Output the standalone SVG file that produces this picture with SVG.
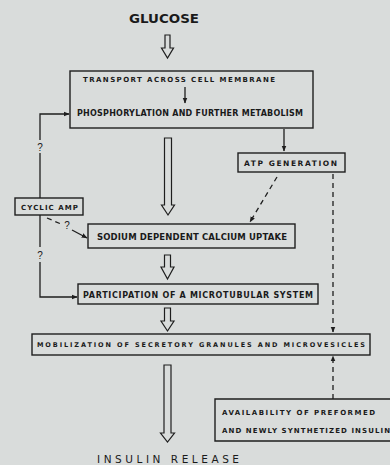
<svg xmlns="http://www.w3.org/2000/svg" width="390" height="465" viewBox="0 0 390 465">
<defs>
<style>
.bg{fill:#d9dcdb}
.box{fill:none;stroke:#1e1e1e;stroke-width:1.4}
.ln{fill:none;stroke:#1e1e1e;stroke-width:1.3}
.dash{fill:none;stroke:#1e1e1e;stroke-width:1.3;stroke-dasharray:5 4}
.hol{fill:none;stroke:#1e1e1e;stroke-width:1.2;stroke-linejoin:miter}
.t{font-family:"DejaVu Sans","Liberation Sans",sans-serif;font-weight:bold;fill:#1a1a1a}
.q{font-family:"Liberation Sans",Arial,sans-serif;font-weight:normal;fill:#1a1a1a;font-size:10px}
.big{font-family:"DejaVu Sans","Liberation Sans",sans-serif;fill:#1a1a1a}
</style>
<marker id="ah" viewBox="0 0 10 10" refX="9" refY="5" markerWidth="6" markerHeight="6" orient="auto" markerUnits="userSpaceOnUse">
<path d="M0,1 L10,5 L0,9 Z" fill="#1e1e1e"/>
</marker>
</defs>
<rect class="bg" x="0" y="0" width="390" height="465"/>

<g id="glucose">
<text class="big" x="164" y="23" font-size="12.5" font-weight="bold" text-anchor="middle" textLength="70" lengthAdjust="spacingAndGlyphs">GLUCOSE</text>
</g>

<g id="box-metabolism">
<rect class="box" x="70" y="71" width="243" height="57"/>
<text class="t" x="83" y="82" font-size="7" textLength="192" lengthAdjust="spacing">TRANSPORT ACROSS CELL MEMBRANE</text>
<line class="ln" x1="185" y1="87" x2="185" y2="103" marker-end="url(#ah)"/>
<text class="t" x="77" y="116" font-size="8" textLength="226" lengthAdjust="spacing">PHOSPHORYLATION AND FURTHER METABOLISM</text>
</g>

<g id="box-atp">
<rect class="box" x="238" y="153" width="107" height="19"/>
<text class="t" x="244" y="165.5" font-size="7.5" textLength="93" lengthAdjust="spacing">ATP  GENERATION</text>
</g>

<g id="box-camp">
<rect class="box" x="15" y="198" width="68" height="17"/>
<text class="t" x="21" y="210" font-size="7" textLength="57" lengthAdjust="spacing">CYCLIC AMP</text>
</g>

<g id="box-sodium">
<rect class="box" x="88" y="224" width="207" height="24"/>
<text class="t" x="97" y="239.5" font-size="8.5" textLength="190" lengthAdjust="spacing">SODIUM DEPENDENT CALCIUM UPTAKE</text>
</g>

<g id="box-microtubular">
<rect class="box" x="78" y="284" width="240" height="20"/>
<text class="t" x="83" y="297.5" font-size="8" textLength="230" lengthAdjust="spacing">PARTICIPATION OF A MICROTUBULAR SYSTEM</text>
</g>

<g id="box-mobilization">
<rect class="box" x="32" y="334" width="338" height="21"/>
<text class="t" x="37" y="347" font-size="6.5" textLength="328" lengthAdjust="spacing">MOBILIZATION OF SECRETORY GRANULES AND MICROVESICLES</text>
</g>

<g id="box-availability">
<path class="box" d="M392,399 H215 V441 H392"/>
<text class="t" x="222" y="414.5" font-size="7" textLength="153" lengthAdjust="spacing">AVAILABILITY OF PREFORMED</text>
<text class="t" x="222" y="432.5" font-size="7" textLength="168" lengthAdjust="spacing">AND NEWLY SYNTHETIZED INSULIN</text>
</g>

<g id="insulin-release">
<text class="big" x="168" y="462.5" font-size="10.5" text-anchor="middle" textLength="142" lengthAdjust="spacing">INSULIN RELEASE</text>
</g>

<g id="connectors">
<path class="hol" d="M165,35 H170 V48 H173.5 L167.5,58 L161.5,48 H165 Z"/>
<path class="hol" d="M164.5,138 H171.5 V205 H174.5 L168,215 L161.5,205 H164.5 Z"/>
<path class="hol" d="M164.5,255 H170.5 V267 H174 L167.5,279 L161,267 H164.5 Z"/>
<path class="hol" d="M164.5,308 H170.5 V321 H174 L167.5,331 L161,321 H164.5 Z"/>
<path class="hol" d="M164,365 H171 V433 H174.5 L167.5,442 L160.5,433 H164 Z"/>

<line class="ln" x1="284" y1="129" x2="284" y2="151" marker-end="url(#ah)"/>
<line class="dash" x1="277" y1="177" x2="250" y2="222" marker-end="url(#ah)"/>
<line class="dash" x1="333" y1="174" x2="333" y2="332" marker-end="url(#ah)"/>
<line class="dash" x1="333" y1="399" x2="333" y2="356" marker-end="url(#ah)"/>

<polyline class="ln" points="40,140 40,114 69,114" marker-end="url(#ah)"/>
<line class="ln" x1="40" y1="153" x2="40" y2="198"/>
<text class="q" x="40" y="151" text-anchor="middle">?</text>
<line class="ln" x1="40" y1="215" x2="40" y2="247"/>
<text class="q" x="40" y="259" text-anchor="middle">?</text>
<polyline class="ln" points="40,262 40,297 77,297" marker-end="url(#ah)"/>
<line class="dash" x1="47" y1="218" x2="61" y2="224" stroke-dasharray="3 3"/>
<text class="q" x="67" y="229" text-anchor="middle">?</text>
<line class="ln" x1="72" y1="230" x2="87" y2="238" marker-end="url(#ah)"/>
</g>
</svg>
